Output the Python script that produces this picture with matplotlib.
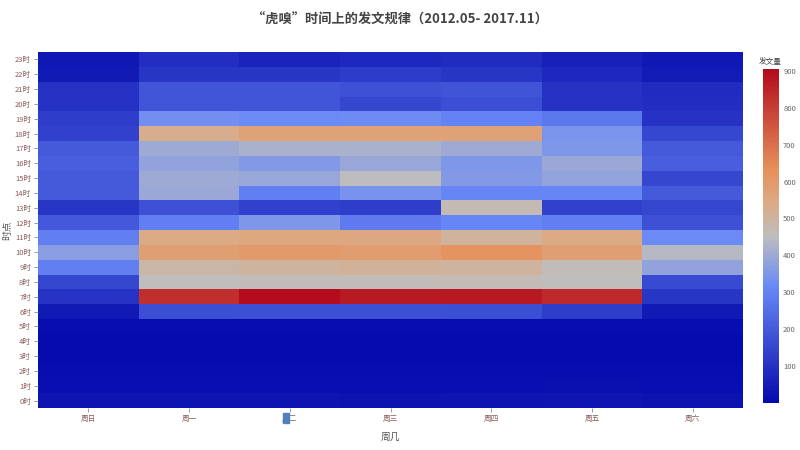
import numpy as np
import matplotlib
matplotlib.use("Agg")
import matplotlib.pyplot as plt
from matplotlib.colors import LinearSegmentedColormap
from matplotlib.patches import Rectangle

plt.rcParams['font.family'] = ['Noto Sans CJK SC', 'DejaVu Sans']

days = ['周日', '周一', '周二', '周三', '周四', '周五', '周六']
hours = [f'{h}时' for h in range(24)]

# rows: hour 0..23, columns: Sun..Sat
h00 = [25, 28, 25, 22, 25, 30, 22]
h01 = [12, 14, 12, 12, 14, 15, 12]
h02 = [8, 8, 8, 8, 8, 8, 8]
h03 = [5, 5, 5, 5, 5, 5, 5]
h04 = [5, 6, 6, 6, 6, 6, 5]
h05 = [8, 10, 10, 10, 10, 10, 8]
h06 = [40, 170, 175, 175, 170, 130, 40]
h07 = [105, 830, 900, 870, 875, 840, 110]
h08 = [150, 455, 460, 460, 465, 455, 160]
h09 = [290, 490, 500, 510, 500, 460, 380]
h10 = [370, 580, 600, 590, 620, 580, 440]
h11 = [290, 540, 555, 550, 505, 540, 320]
h12 = [195, 290, 350, 280, 310, 290, 180]
h13 = [110, 180, 140, 130, 470, 140, 150]
h14 = [200, 395, 290, 340, 310, 310, 200]
h15 = [200, 400, 390, 450, 360, 385, 150]
h16 = [210, 380, 360, 390, 350, 395, 210]
h17 = [200, 400, 420, 420, 400, 350, 200]
h18 = [140, 530, 570, 570, 570, 345, 150]
h19 = [130, 330, 320, 325, 300, 275, 100]
h20 = [100, 190, 190, 150, 170, 100, 90]
h21 = [100, 190, 190, 180, 185, 100, 85]
h22 = [40, 110, 110, 125, 110, 75, 45]
h23 = [35, 90, 65, 75, 85, 60, 35]

values = np.array([h00, h01, h02, h03, h04, h05, h06, h07, h08, h09, h10, h11,
                   h12, h13, h14, h15, h16, h17, h18, h19, h20, h21, h22, h23])

cmap = LinearSegmentedColormap.from_list('rdbu_r', [
    (0.0, (5/255, 10/255, 172/255)),
    (0.35, (106/255, 137/255, 247/255)),
    (0.5, (190/255, 190/255, 190/255)),
    (0.6, (220/255, 170/255, 132/255)),
    (0.7, (230/255, 145/255, 90/255)),
    (1.0, (178/255, 10/255, 28/255)),
])

fig = plt.figure(figsize=(8, 4.5), dpi=100)
ax = fig.add_axes([38/800, 1-408/450, 705/800, 356/450])
mesh = ax.pcolormesh(np.arange(8) - 0.5, np.arange(25) - 0.5, values,
                     cmap=cmap, vmin=0, vmax=905, shading='flat')
ax.set_xlim(-0.5, 6.5)
ax.set_ylim(-0.5, 23.5)
ax.set_xticks(range(7))
ax.set_xticklabels(days)
ax.set_yticks(range(24))
ax.set_yticklabels(hours)
for s in ax.spines.values():
    s.set_visible(False)
tick_col = '#8c5c5c'
ax.tick_params(axis='both', labelsize=5.5, colors='#7b8bbf', labelcolor=tick_col,
               length=3, width=0.6, pad=2)
ax.set_xlabel('周几', fontsize=7, color='#555555', labelpad=6)
ax.set_ylabel('时点', fontsize=7, color='#555555', labelpad=2)

fig.text(0.5, 1-20/450, '“虎嗅”时间上的发文规律（2012.05- 2017.11）',
         ha='center', va='center', fontsize=9.5, fontweight='bold', color='#444444')

cax = fig.add_axes([763/800, 1-403/450, 16/800, (403-69)/450])
cb = fig.colorbar(mesh, cax=cax)
cb.outline.set_visible(False)
cb.set_ticks([100, 200, 300, 400, 500, 600, 700, 800, 900])
cb.ax.tick_params(labelsize=5.5, length=0, colors='#666666', pad=3)
fig.text(770/800, 1-62/450, '发文量', ha='center', va='center', fontsize=5.5, color='#444444')

# small highlight artifact near 周二 label
fig.patches.append(Rectangle((283/800, 1-423/450), 6/800, 10/450,
                             transform=fig.transFigure, color='#4f7fbf', zorder=5))

fig.savefig('out.png', dpi=100)
